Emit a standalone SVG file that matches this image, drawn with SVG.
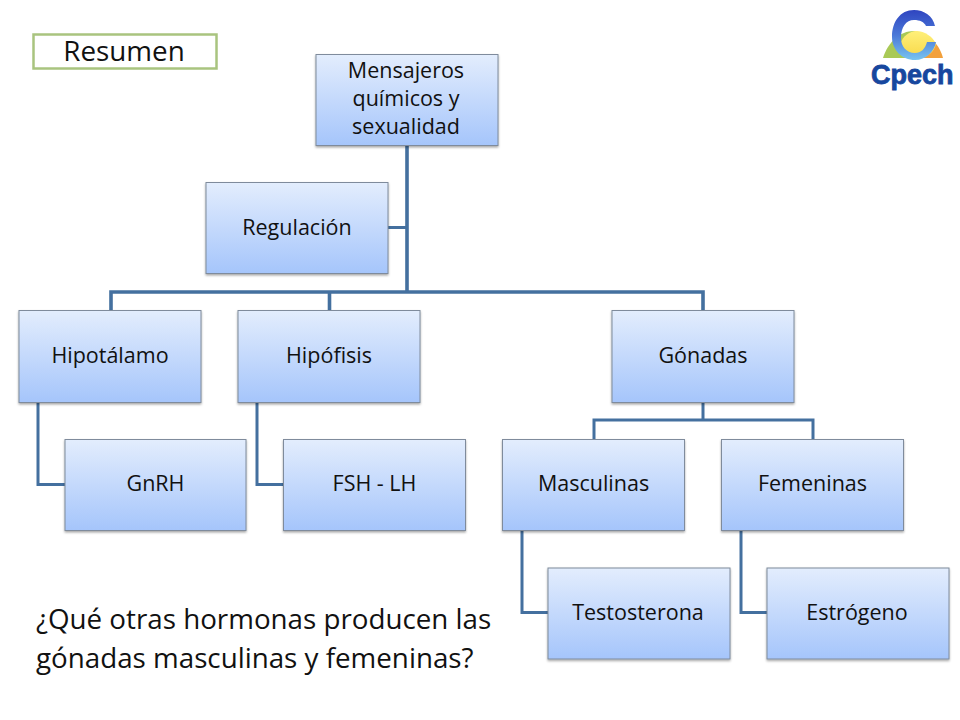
<svg xmlns="http://www.w3.org/2000/svg" width="960" height="720" viewBox="0 0 960 720">
<style>
.n{fill:url(#g);stroke:#7f8b9c;stroke-width:1;filter:url(#s)}
.t{font-family:"Open Sans","DejaVu Sans",sans-serif;font-size:21.500px;fill:#111;text-anchor:middle}
.c{fill:none;stroke:#44709f;stroke-width:3.6}
.c2{fill:none;stroke:#44709f;stroke-width:3}
.q{font-family:"Open Sans","DejaVu Sans",sans-serif;font-size:27.750px;fill:#111}
.lg{font-family:"Liberation Sans",Arial,sans-serif;font-weight:bold;font-size:27px;fill:#17479e;stroke:#17479e;stroke-width:.8}
</style>
<defs>
<linearGradient id="g" x1="0" y1="0" x2="0" y2="1"><stop offset="0" stop-color="#e3edfd"/><stop offset="1" stop-color="#a5c5fb"/></linearGradient>
<filter id="s" x="-5%" y="-5%" width="110%" height="115%"><feDropShadow dx="0" dy="1.500" stdDeviation="1.200" flood-color="#000" flood-opacity=".35"/></filter>
<linearGradient id="ly" x1="0" y1="0" x2="0" y2="1"><stop offset="0" stop-color="#fff07a"/><stop offset="1" stop-color="#f8d848"/></linearGradient>
<linearGradient id="lb" x1="0" y1="0" x2="0" y2="1"><stop offset="0" stop-color="#2f45c0"/><stop offset=".5" stop-color="#4a78d8"/><stop offset="1" stop-color="#78c4f0"/></linearGradient>
</defs>
<g id="connectors">
<path class="c" d="M407 145V291M111 310V292H703V310M329.500 292V310"/>
<path class="c2" d="M407 227.500H388"/>
<path class="c2" d="M38 402V484.500H65M257 402V484.500H283M703 402V419M594 439V420H813V439M522 530V612.500H548M741 530V612.500H767"/>
</g>
<g id="resumen"><rect x="33.500" y="34.500" width="183" height="34" fill="#fff" stroke="#a9c47f" stroke-width="2.500"/><text x="124" y="60.500" text-anchor="middle" font-family="'Open Sans','DejaVu Sans',sans-serif" font-size="27.800" fill="#111">Resumen</text></g>
<g id="n-root"><rect class="n" x="316" y="54.500" width="182" height="91"/><text class="t" x="406" y="77.500">Mensajeros</text><text class="t" x="406" y="105.500">químicos y</text><text class="t" x="406" y="133.500">sexualidad</text></g>
<g id="n-regulacion"><rect class="n" x="206" y="182.500" width="182" height="91"/><text class="t" x="297" y="234.500">Regulación</text></g>
<g id="n-hipotalamo"><rect class="n" x="19" y="310.500" width="182" height="92"/><text class="t" x="110" y="362.500">Hipotálamo</text></g>
<g id="n-hipofisis"><rect class="n" x="238" y="310.500" width="182" height="92"/><text class="t" x="329" y="362.500">Hipófisis</text></g>
<g id="n-gonadas"><rect class="n" x="612" y="310.500" width="182" height="92"/><text class="t" x="703" y="362.500">Gónadas</text></g>
<g id="n-gnrh"><rect class="n" x="65" y="439.500" width="181" height="91"/><text class="t" x="155.500" y="491">GnRH</text></g>
<g id="n-fsh"><rect class="n" x="283.500" y="439.500" width="182" height="91"/><text class="t" x="374.500" y="491">FSH - LH</text></g>
<g id="n-masculinas"><rect class="n" x="502.500" y="439.500" width="182" height="91"/><text class="t" x="593.500" y="491">Masculinas</text></g>
<g id="n-femeninas"><rect class="n" x="721.500" y="439.500" width="182" height="91"/><text class="t" x="812.500" y="491">Femeninas</text></g>
<g id="n-testosterona"><rect class="n" x="548" y="568" width="182" height="91"/><text class="t" x="638" y="619.500">Testosterona</text></g>
<g id="n-estrogeno"><rect class="n" x="767" y="568" width="182" height="91"/><text class="t" x="857" y="619.500">Estrógeno</text></g>
<g id="pregunta"><text class="q" x="36" y="629">¿Qué otras hormonas producen las</text><text class="q" x="36" y="668">gónadas masculinas y femeninas?</text></g>
<g id="logo">
<path d="M883 58C888 42 900 31 914 31L914 58Z" fill="#a9c956"/>
<path d="M943 58C940 46 930 33 914 31L914 58Z" fill="#f2a03c"/>
<path d="M900 44C903 36 910 31 916 31C925 31 933 37 936 44C934 52 928 58 916 58C907 58 902 52 900 44Z" fill="url(#ly)"/>
<path d="M935 26C933 16 924 10 914 10C900 10 892 22 892 37C892 50 902 60 915 60C926 60 934 52 936 42L927 42C925 49 921 53 915 53C906 53 901 46 901 38C901 27 906 20 914 20C920 20 924 22 926 26Z" fill="url(#lb)"/>
<text class="lg" x="871" y="84">Cpech</text>
</g>
</svg>
